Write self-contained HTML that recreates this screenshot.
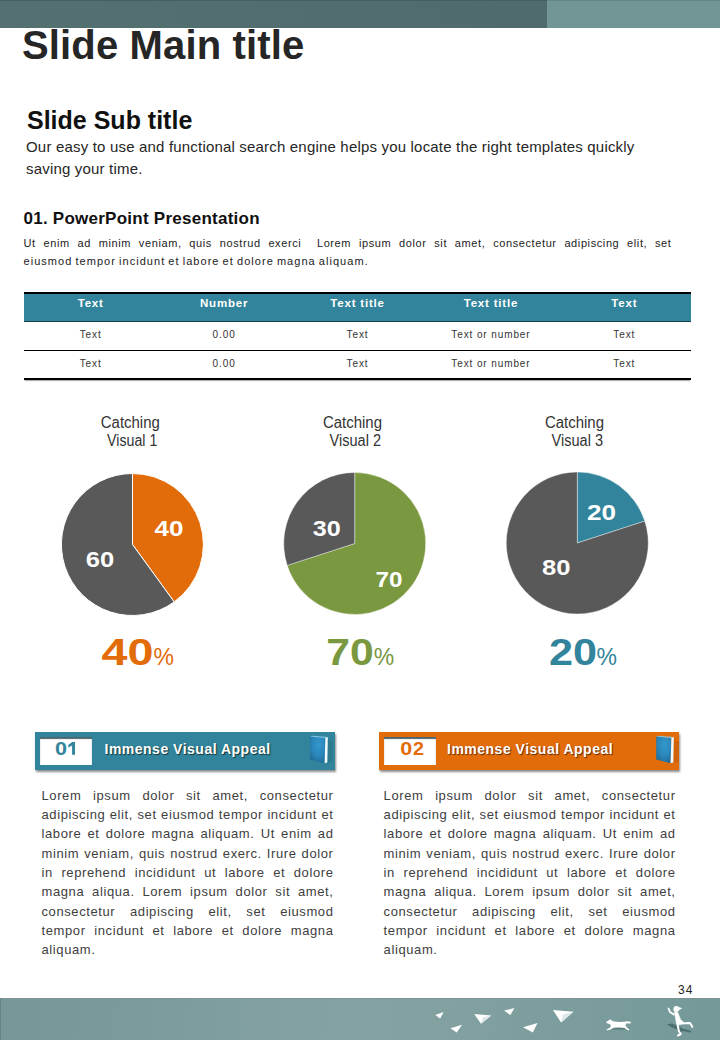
<!DOCTYPE html>
<html>
<head>
<meta charset="utf-8">
<style>
*{margin:0;padding:0;box-sizing:border-box;}
html,body{width:720px;height:1040px;overflow:hidden;background:#fff;}
body{position:relative;font-family:"Liberation Sans",sans-serif;color:#262626;}
.abs{position:absolute;white-space:nowrap;}
#topbar{position:absolute;left:0;top:0;width:720px;height:28px;background:linear-gradient(90deg,#547070 0%,#4f6b6c 75%);border-top:1px solid #45605f;}
#topbar2{position:absolute;left:547px;top:0;width:173px;height:28px;background:#729596;border-top:1px solid #628686;}
#maintitle{left:22px;top:21px;letter-spacing:0.15px;font-size:40px;font-weight:bold;line-height:48px;color:#262626;}
#subtitle{left:27px;top:104.5px;font-size:25px;font-weight:bold;line-height:30px;color:#111;}
.subp{left:26px;font-size:15px;letter-spacing:0.185px;line-height:22px;color:#262626;}
#h01{left:23.5px;top:207.5px;letter-spacing:0.25px;font-size:17px;font-weight:bold;line-height:22px;color:#111;}
.smallp{left:23.5px;width:648px;font-size:11px;letter-spacing:0.6px;line-height:17.5px;color:#222;}
.just{text-align:justify;text-align-last:justify;white-space:normal;}
/* table */
#tbl{position:absolute;left:24px;top:292px;width:667px;}
#tbl .row{display:flex;width:667px;}
#tbl .cell{flex:1;text-align:center;}
#tbl .hdr{height:30px;background:#31849b;border-top:2px solid #000;border-bottom:1px solid #173f4a;color:#fff;font-weight:bold;font-size:11.5px;letter-spacing:0.8px;line-height:18.5px;}
#tbl .r1{height:29px;border-bottom:1px solid #000;font-size:10px;letter-spacing:0.9px;line-height:26px;color:#333;}
#tbl .r2{height:29px;border-bottom:2px solid #000;box-shadow:0 2px 1px -1px rgba(0,0,0,0.3);font-size:10px;letter-spacing:0.9px;line-height:26px;color:#333;}
.ctitle{font-size:15px;line-height:17.7px;text-align:center;color:#262626;width:120px;}
.pct{font-weight:bold;font-size:36px;line-height:40px;}
.pct span{font-size:21px;font-weight:normal;}
.box{position:absolute;top:732px;width:300px;height:38px;box-shadow:1px 2px 2px rgba(0,0,0,0.45);}
.box .num{position:absolute;left:5px;top:5px;width:52px;height:28px;background:#fff;box-shadow:inset 0 2px 1px rgba(15,50,60,0.75);font-weight:bold;font-size:18px;line-height:26px;text-align:left;}
.box .num span{display:inline-block;transform:scaleX(1.18);transform-origin:0 50%;letter-spacing:0.8px;}
.box .lbl{position:absolute;left:69.5px;top:0;line-height:35.5px;font-weight:bold;font-size:14px;letter-spacing:0.5px;color:#fff;text-shadow:1px 1px 1px rgba(0,0,0,0.6);white-space:nowrap;}
.box .book{position:absolute;left:270px;top:0;}
.body{position:absolute;width:292px;font-size:13px;letter-spacing:0.6px;line-height:19.35px;color:#404040;}
.body div{text-align:justify;text-align-last:justify;}
.body div.last{text-align-last:left;}
#botbar{position:absolute;left:0;top:998px;width:720px;height:42px;background:linear-gradient(95deg,#759797 0%,#7d9d9d 25%,#85a2a2 48%,#84a1a1 58%,#7c9d9d 78%,#749898 100%);border-top:1px solid #7f9393;border-left:1px solid #628585;}
</style>
</head>
<body>
<div id="topbar"></div>
<div id="topbar2"></div>
<div id="maintitle" class="abs">Slide Main title</div>
<div id="subtitle" class="abs">Slide Sub title</div>
<div class="abs subp" style="top:136px">Our easy to use and functional search engine helps you locate the right templates quickly</div>
<div class="abs subp" style="top:158.3px">saving your time.</div>
<div id="h01" class="abs">01. PowerPoint Presentation</div>
<div class="abs smallp just" style="top:235px">Ut enim ad minim veniam, quis nostrud exerci&nbsp; Lorem ipsum dolor sit amet, consectetur adipiscing elit, set</div>
<div class="abs smallp" style="top:253px;width:auto;letter-spacing:1.04px;word-spacing:-1px">eiusmod tempor incidunt et labore et dolore magna aliquam.</div>

<div id="tbl">
  <div class="row hdr"><div class="cell">Text</div><div class="cell">Number</div><div class="cell">Text title</div><div class="cell">Text title</div><div class="cell">Text</div></div>
  <div class="row r1"><div class="cell">Text</div><div class="cell">0.00</div><div class="cell">Text</div><div class="cell">Text or number</div><div class="cell">Text</div></div>
  <div class="row r2"><div class="cell">Text</div><div class="cell">0.00</div><div class="cell">Text</div><div class="cell">Text or number</div><div class="cell">Text</div></div>
</div>

<!-- chart titles -->

<svg class="abs" style="left:0;top:0" width="720" height="700" viewBox="0 0 720 700" shape-rendering="geometricPrecision">
  <g fill="#333" font-family="Liberation Sans" font-size="16">
    <text x="100.8" y="427.6" textLength="59" lengthAdjust="spacingAndGlyphs">Catching</text>
    <text x="107" y="446" textLength="50.3" lengthAdjust="spacingAndGlyphs">Visual 1</text>
    <text x="323" y="427.6" textLength="59" lengthAdjust="spacingAndGlyphs">Catching</text>
    <text x="329.5" y="446" textLength="51.5" lengthAdjust="spacingAndGlyphs">Visual 2</text>
    <text x="545" y="427.6" textLength="59" lengthAdjust="spacingAndGlyphs">Catching</text>
    <text x="551.5" y="446" textLength="51.5" lengthAdjust="spacingAndGlyphs">Visual 3</text>
  </g>
  <!-- pie 1 -->
  <g stroke="#fff" stroke-width="1" stroke-linejoin="round">
    <path d="M132.5,544.5 L132.5,473.5 A71,71 0 0 1 174.2,601.9 Z" fill="#e36c0a"/>
    <path d="M132.5,544.5 L174.2,601.9 A71,71 0 1 1 132.5,473.5 Z" fill="#595959"/>
  </g>
  <g stroke="rgba(255,255,255,0.5)" stroke-width="0.8" stroke-linejoin="round">
    <path d="M354.7,543.5 L354.7,472.5 A71,71 0 1 1 287.2,565.4 Z" fill="#7a983f"/>
    <path d="M354.7,543.5 L287.2,565.4 A71,71 0 0 1 354.7,472.5 Z" fill="#595959"/>
  </g>
  <g stroke="rgba(255,255,255,0.5)" stroke-width="0.8" stroke-linejoin="round">
    <path d="M577.3,543 L577.3,472 A71,71 0 0 1 644.8,521.1 Z" fill="#31849b"/>
    <path d="M577.3,543 L644.8,521.1 A71,71 0 1 1 577.3,472 Z" fill="#595959"/>
  </g>
  <g fill="#fff" font-family="Liberation Sans" font-weight="bold" font-size="22" lengthAdjust="spacingAndGlyphs">
    <text x="154.5" y="535.5" textLength="29" lengthAdjust="spacingAndGlyphs">40</text>
    <text x="85.8" y="566.5" textLength="28.5" lengthAdjust="spacingAndGlyphs">60</text>
    <text x="312.8" y="535.8" textLength="28" lengthAdjust="spacingAndGlyphs">30</text>
    <text x="375.4" y="587.2" textLength="27" lengthAdjust="spacingAndGlyphs">70</text>
    <text x="586.9" y="520" textLength="29" lengthAdjust="spacingAndGlyphs">20</text>
    <text x="542.1" y="574.6" textLength="28.5" lengthAdjust="spacingAndGlyphs">80</text>
  </g>
  <g font-family="Liberation Sans" font-weight="bold" font-size="37">
    <text x="101.5" y="664.8" textLength="52" lengthAdjust="spacingAndGlyphs" fill="#e36c0a">40</text>
    <text x="326.2" y="665" textLength="47.5" lengthAdjust="spacingAndGlyphs" fill="#7a983f">70</text>
    <text x="549" y="665" textLength="48" lengthAdjust="spacingAndGlyphs" fill="#31849b">20</text>
  </g>
  <g font-family="Liberation Sans" font-size="23">
    <text x="153.5" y="664.8" fill="#e36c0a">%</text>
    <text x="373.8" y="665" fill="#7a983f">%</text>
    <text x="596.6" y="665" fill="#31849b">%</text>
  </g>
</svg>


<div class="box" style="left:35px;background:#31849b">
  <div class="num"></div>
  <div class="lbl">Immense Visual Appeal</div>
  <svg class="book" width="30" height="38" viewBox="0 0 30 38">
    <defs><radialGradient id="bg1" cx="0.55" cy="0.3" r="0.8"><stop offset="0" stop-color="#3399cc"/><stop offset="0.55" stop-color="#2a85ba"/><stop offset="1" stop-color="#1b6590"/></radialGradient></defs>
    <polygon points="23,7 28,10 27.5,29 22.5,32" fill="rgba(0,0,0,0.08)"/>
    <polygon points="5.2,4.6 20.4,5.9 19.6,31.3 5.2,27.6" fill="url(#bg1)"/>
    <polygon points="5.2,4.6 7,3.7 22.8,5 20.4,5.9" fill="#86c8e8"/>
    <polygon points="20.4,5.9 22.8,5 22.3,30.4 19.6,31.3" fill="#f2fbff"/>
  </svg>
</div>
<div class="box" style="left:379px;background:#e36c0a">
  <div class="num"></div>
  <div class="lbl" style="left:68px">Immense Visual Appeal</div>
  <svg class="book" style="left:271.5px" width="30" height="38" viewBox="0 0 30 38">
    <defs><radialGradient id="bg2" cx="0.55" cy="0.3" r="0.8"><stop offset="0" stop-color="#3399cc"/><stop offset="0.55" stop-color="#2a85ba"/><stop offset="1" stop-color="#1b6590"/></radialGradient></defs>
    <polygon points="23,7 28,10 27.5,29 22.5,32" fill="rgba(0,0,0,0.08)"/>
    <polygon points="5.2,4.6 20.4,5.9 19.6,31.3 5.2,27.6" fill="url(#bg2)"/>
    <polygon points="5.2,4.6 7,3.7 22.8,5 20.4,5.9" fill="#86c8e8"/>
    <polygon points="20.4,5.9 22.8,5 22.3,30.4 19.6,31.3" fill="#f2fbff"/>
  </svg>
</div>

<svg class="abs" style="left:0;top:730px" width="720" height="40" viewBox="0 730 720 40">
  <g font-family="Liberation Sans" font-weight="bold" font-size="18">
    <text x="55" y="754.8" textLength="12" lengthAdjust="spacingAndGlyphs" fill="#31849b">0</text>
    <text x="400.2" y="754.8" textLength="12" lengthAdjust="spacingAndGlyphs" fill="#e36c0a">0</text>
    <text x="413" y="754.8" textLength="11" lengthAdjust="spacingAndGlyphs" fill="#e36c0a">2</text>
  </g>
  <path d="M72.1,742 L75,742 L75,754.8 L72.1,754.8 L72.1,745.6 L68.3,747.6 L68.3,745 Z" fill="#31849b"/>
</svg>
<div class="body" style="left:41.5px;top:785.5px">
<div>Lorem ipsum dolor sit amet, consectetur</div>
<div>adipiscing elit, set eiusmod tempor incidunt et</div>
<div>labore et dolore magna aliquam. Ut enim ad</div>
<div>minim veniam, quis nostrud exerc. Irure dolor</div>
<div>in reprehend incididunt ut labore et dolore</div>
<div>magna aliqua. Lorem ipsum dolor sit amet,</div>
<div>consectetur adipiscing elit, set eiusmod</div>
<div>tempor incidunt et labore et dolore magna</div>
<div class="last">aliquam.</div>
</div>
<div class="body" style="left:383.6px;top:785.5px">
<div>Lorem ipsum dolor sit amet, consectetur</div>
<div>adipiscing elit, set eiusmod tempor incidunt et</div>
<div>labore et dolore magna aliquam. Ut enim ad</div>
<div>minim veniam, quis nostrud exerc. Irure dolor</div>
<div>in reprehend incididunt ut labore et dolore</div>
<div>magna aliqua. Lorem ipsum dolor sit amet,</div>
<div>consectetur adipiscing elit, set eiusmod</div>
<div>tempor incidunt et labore et dolore magna</div>
<div class="last">aliquam.</div>
</div>

<div class="abs" style="left:678px;top:983px;font-size:12px;letter-spacing:1px;line-height:14px;color:#262626">34</div>
<div id="botbar"></div>
<svg class="abs" style="left:0;top:998px" width="720" height="42" viewBox="0 998 720 42">
  <g fill="#fff">
    <polygon points="435.3,1015.1 443.6,1012.1 440.2,1018.5"/>
    <polygon points="450.4,1028.2 462.1,1024.8 456.7,1032.6"/>
    <polygon points="474.2,1014.1 491.2,1015.5 481,1023.8"/>
    <polygon points="504.2,1010.6 514.5,1008 510.3,1015.1"/>
    <polygon points="523.1,1027.2 537.5,1023 532.8,1032.5"/>
    <polygon points="552.9,1010 573.5,1011.8 561.1,1022.4"/>
  </g>
  <g fill="#dfe8e8">
    <polygon points="481,1023.8 491.2,1015.5 482.5,1017.5"/>
    <polygon points="561.1,1022.4 573.5,1011.8 563,1014.5"/>
  </g>
  <!-- dog shadow -->
  <path d="M609,1027.5 L624,1026.5 L631,1028 L624,1029.5 L611,1029.5 Z" fill="#4d6e6e" opacity="0.7"/>
  <!-- dog -->
  <path d="M606,1022 L609,1020.3 L610.5,1019.2 L611.5,1020.6 L614,1021.6 L620,1022 L624.5,1021.8 L628,1021.2 L631.5,1022.3 L630,1023.4 L626,1023.6 L625.5,1026 L629.5,1029.6 L628.5,1030.6 L624.5,1028 L619,1027.6 L614,1027.8 L610.5,1029.6 L607,1030.6 L606.4,1029.8 L610,1027.6 L611,1025.6 L609.5,1024 L607.5,1023.6 Z" fill="#fff"/>
  <!-- girl shadow -->
  <path d="M667,1024.5 L672,1023.5 L677,1025.5 L684,1029 L691.5,1031 L690,1032.5 L683,1031 L678.5,1033 L677,1029.5 L671,1027 Z" fill="#3f6262" opacity="0.75"/>
  <!-- girl -->
  <g fill="#fff" stroke="#fff" stroke-linecap="round" stroke-linejoin="round">
    <circle cx="676.3" cy="1009" r="2.9" stroke="none"/>
    <path d="M676.5,1007 L681.5,1008.4 L678.5,1009.8 Z" stroke-width="1"/>
    <path d="M668.5,1008.5 L670,1012 L673.8,1014.5" fill="none" stroke-width="1.8"/>
    <path d="M674.5,1012 L677.8,1012.5 L680.5,1019.5 L683.8,1022.5 L680,1024.8 L676.5,1024 L675.5,1018 Z" stroke-width="0.6"/>
    <path d="M681.5,1023.5 L690,1023 L692.3,1026.8" fill="none" stroke-width="2"/>
    <path d="M677.5,1024 L678.8,1031 L680.8,1034 L678,1035.5" fill="none" stroke-width="2"/>
  </g>
</svg>

</body>
</html>
